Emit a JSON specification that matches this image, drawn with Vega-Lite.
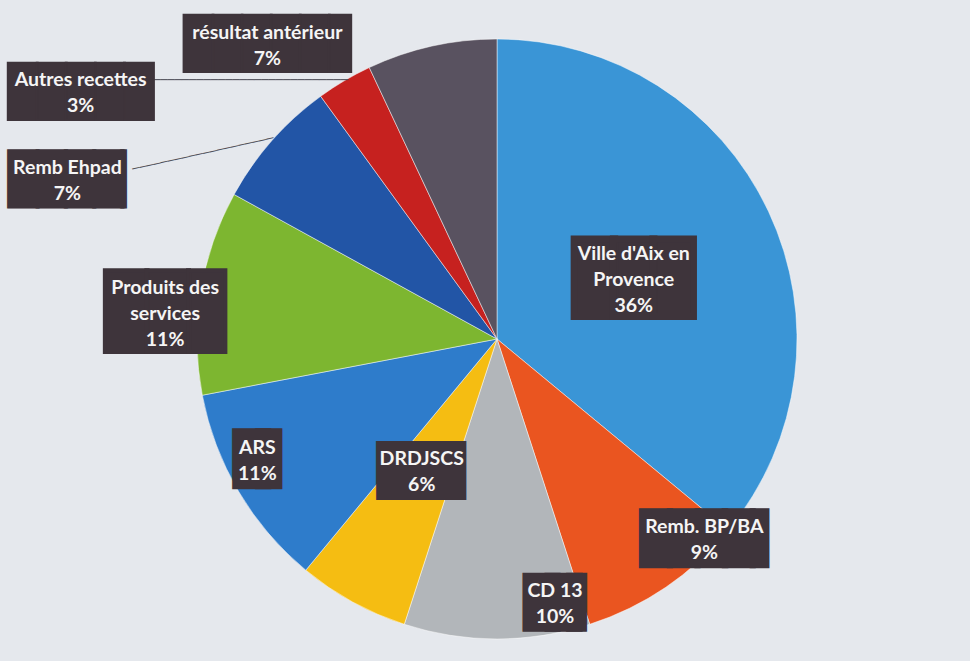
{
  "$schema": "https://vega.github.io/schema/vega-lite/v6.json",
  "width": 940,
  "height": 644,
  "autosize": {"type": "none"},
  "padding": {"left": 27, "top": 17, "right": 3, "bottom": 0},
  "background": "#e5e8ed",
  "config": {"view": {"stroke": null}},
  "data": {
    "values": [
      {"rank": 1, "cat": "Ville d'Aix en Provence", "label": "Ville d'Aix en\nProvence", "pct": 36},
      {"rank": 2, "cat": "Remb. BP/BA", "label": "Remb. BP/BA", "pct": 9},
      {"rank": 3, "cat": "CD 13", "label": "CD 13", "pct": 10},
      {"rank": 4, "cat": "DRDJSCS", "label": "DRDJSCS", "pct": 6},
      {"rank": 5, "cat": "ARS", "label": "ARS", "pct": 11},
      {"rank": 6, "cat": "Produits des services", "label": "Produits des\nservices", "pct": 11},
      {"rank": 7, "cat": "Remb Ehpad", "label": "Remb Ehpad", "pct": 7},
      {"rank": 8, "cat": "Autres recettes", "label": "Autres recettes", "pct": 3},
      {"rank": 9, "cat": "résultat antérieur", "label": "résultat antérieur", "pct": 7}
    ]
  },
  "transform": [
    {"calculate": "datum.label + '\\n' + datum.pct + '%'", "as": "txt"}
  ],
  "encoding": {
    "theta": {"field": "pct", "type": "quantitative", "stack": true},
    "order": {"field": "rank", "type": "quantitative", "sort": "ascending"}
  },
  "layer": [
    {
      "mark": {"type": "arc", "outerRadius": 300, "stroke": "#ffffff", "strokeWidth": 0.8, "strokeOpacity": 0.6},
      "encoding": {
        "color": {
          "field": "cat",
          "type": "nominal",
          "legend": null,
          "scale": {
            "domain": ["Ville d'Aix en Provence", "Remb. BP/BA", "CD 13", "DRDJSCS", "ARS", "Produits des services", "Remb Ehpad", "Autres recettes", "résultat antérieur"],
            "range": ["#3a95d6", "#ea5520", "#b2b6ba", "#f5bd12", "#2e7ccb", "#7db630", "#2255a6", "#c6211f", "#595260"]
          }
        }
      }
    },
    {
      "mark": {
        "type": "text",
        "font": "DejaVu Sans Mono",
        "fontSize": 12,
        "align": "center",
        "baseline": "middle",
        "fill": "#4d4d57",
        "text": {"expr": "['','','','','','','────────────────────','───────────────────────────',''][datum.rank-1]"},
        "angle": {"expr": "[0,0,0,0,0,0,-12.5,0,0][datum.rank-1]"},
        "radius": 300,
        "dx": {"expr": "[0,0,0,0,0,0,-70.1,-93.8,0][datum.rank-1]"},
        "dy": {"expr": "[0,0,0,0,0,0,-2.3,-0.3,0][datum.rank-1]"}
      }
    },
    {
      "mark": {
        "type": "text",
        "font": "DejaVu Sans Mono",
        "align": "center",
        "baseline": "middle",
        "fill": "#3e343b",
        "stroke": "#3e343b",
        "strokeJoin": "miter",
        "fontSize": {"expr": "[65.4,45.95,36.7,44.6,38.3,68.8,47,48.2,48.3][datum.rank-1]"},
        "strokeWidth": {"expr": "[6.9,5.5,15.3,6.1,15.4,3.9,3.3,1.9,1.8][datum.rank-1]"},
        "text": {"expr": "['███','████▌','██▎','███▏','█▌','██▉','████▏','█████','█████▊'][datum.rank-1]"},
        "radius": {"expr": "[150,287,268,150,268,333,458,484,374][datum.rank-1]"},
        "dx": {"expr": "[1,52.9,66.3,8.7,-3.2,-0.4,-73.6,-170,-144.4][datum.rank-1]"},
        "dy": {"expr": "[5,-35.9,-3.3,2.1,-14.2,27.2,145.2,171.2,72.2][datum.rank-1]"}
      }
    },
    {
      "mark": {
        "type": "text",
        "font": "Lato",
        "fontWeight": "bold",
        "fontSize": 19.5,
        "lineHeight": 26,
        "lineBreak": "\n",
        "align": "center",
        "baseline": "middle",
        "fill": "#f5f5f5",
        "radius": {"expr": "[150,287,268,150,268,333,458,484,374][datum.rank-1]"},
        "dx": {"expr": "[1,46,58,-3,-9,-3,-86,-170,-148][datum.rank-1]"},
        "dy": {"expr": "[-21,-49,-16,-11,-27,1,132,158,59][datum.rank-1]"}
      },
      "encoding": {
        "text": {"field": "txt", "type": "nominal"}
      }
    }
  ]
}
